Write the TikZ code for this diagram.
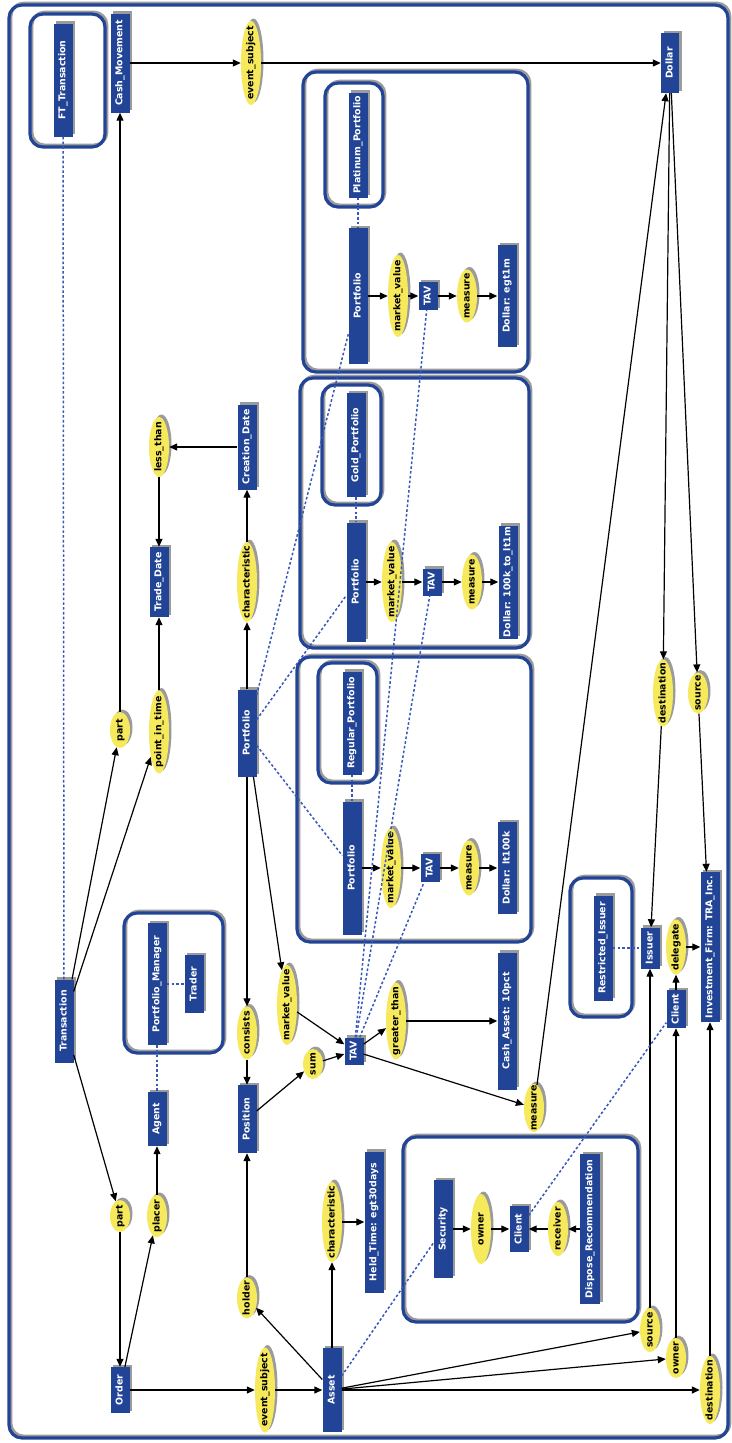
\documentclass[tikz,border=0pt]{standalone}
\usepackage{fontspec}
\setmainfont{DejaVu Sans}
\usepackage{graphicx}
\usetikzlibrary{shapes.geometric,arrows.meta,shadows}
\definecolor{nblue}{RGB}{34,68,150}
\definecolor{nyellow}{RGB}{246,234,92}
\definecolor{dblue}{RGB}{55,88,185}
\definecolor{shgray}{RGB}{155,155,155}
\newcommand{\rtx}[1]{\rotatebox{90}{\makebox[0pt]{\rule[-2pt]{0pt}{9pt}#1}}}
\newcommand{\nfont}{\fontsize{9.4}{11}\selectfont\bfseries}
\tikzset{
  nshadow/.style={drop shadow={shadow xshift=2.5pt,shadow yshift=2.5pt,fill=shgray,opacity=1}},
  bx/.style={rectangle, fill=nblue, text=white, font=\nfont, inner sep=0pt, minimum width=19pt, minimum height=#1, nshadow},
  bx/.default=40pt,
  el/.style={ellipse, fill=nyellow, text=black, font=\nfont, inner sep=0pt, minimum width=20pt, minimum height=#1, nshadow},
  el/.default=40pt,
  grp/.style={draw=nblue, line width=3.2pt, rounded corners=13pt},
  grpsh/.style={draw=shgray, line width=3.2pt, rounded corners=13pt, shift={(1.8,-1.8)}},
  arr/.style={draw=black, line width=1.2pt, -{Triangle[length=8pt,width=7pt]}},
  dotl/.style={draw=dblue, line width=1.5pt, dash pattern=on 2.6pt off 2.2pt},
}
\begin{document}
\begin{tikzpicture}[x=1pt,y=-1pt]
\useasboundingbox (0,0) rectangle (731,1443);
% frame and group boxes
\foreach \a/\b/\c/\d in {9/5/728/1438, 30/14/105/147, 303/72/528/372, 325/83/383/207, 300/378/529/648, 322/385/381/505, 297/657/531/942, 318/663/377/783, 124/913/223/1053, 570/878/632/1017, 403/1137/638/1322}{
  \draw[grpsh] (\a,\b) rectangle (\c,\d);
  \draw[grp] (\a,\b) rectangle (\c,\d);
}
% blue boxes
\node[bx=113pt] (ft) at (63,80) {\rtx{FT\_Transaction}};
\node[bx=99pt] (cash) at (120,63) {\rtx{Cash\_Movement}};
\node[bx=60pt, minimum width=18pt] (dollar) at (670,63) {\rtx{Dollar}};
\node[bx=105pt] (platp) at (358,145) {\rtx{Platinum\_Portfolio}};
\node[bx=136pt] (pf1) at (358,296) {\rtx{Portfolio}};
\node[bx=28pt] (tav1) at (428,296) {\rtx{TAV}};
\node[bx=102pt] (d1) at (507,296) {\rtx{Dollar: egt1m}};
\node[bx=104pt] (goldp) at (356,445) {\rtx{Gold\_Portfolio}};
\node[bx=119pt] (pf2) at (356,582) {\rtx{Portfolio}};
\node[bx=27pt] (tav2) at (432,582) {\rtx{TAV}};
\node[bx=113pt] (d2) at (508,582) {\rtx{Dollar: 100k\_to\_lt1m}};
\node[bx=103pt] (regp) at (352,723) {\rtx{Regular\_Portfolio}};
\node[bx=133pt] (pf3) at (352,868) {\rtx{Portfolio}};
\node[bx=28pt] (tav3) at (430,868) {\rtx{TAV}};
\node[bx=92pt] (d3) at (507,868) {\rtx{Dollar: lt100k}};
\node[bx=85pt] (cdate) at (247,447) {\rtx{Creation\_Date}};
\node[bx=70pt] (tdate) at (159,582) {\rtx{Trade\_Date}};
\node[bx=87pt] (pfm) at (247,733) {\rtx{Portfolio}};
\node[bx=83pt] (trans) at (64,1021) {\rtx{Transaction}};
\node[bx=122pt] (pm) at (157,984) {\rtx{Portfolio\_Manager}};
\node[bx=58pt] (trader) at (194,984) {\rtx{Trader}};
\node[bx=54pt] (agent) at (157,1119) {\rtx{Agent}};
\node[bx=68pt] (pos) at (247,1119) {\rtx{Position}};
\node[bx=27pt] (tavm) at (354,1051) {\rtx{TAV}};
\node[bx=137pt] (cash10) at (507,1021) {\rtx{Cash\_Asset: 10pct}};
\node[bx=46pt] (order) at (120,1390) {\rtx{Order}};
\node[bx=84pt] (asset) at (332,1390) {\rtx{Asset}};
\node[bx=141pt] (held) at (374,1222) {\rtx{Held\_Time: egt30days}};
\node[bx=98pt] (sec) at (443,1229) {\rtx{Security}};
\node[bx=46pt] (clienti) at (519,1229) {\rtx{Client}};
\node[bx=150pt, minimum width=20pt] (disp) at (590,1229) {\rtx{Dispose\_Recommendation}};
\node[bx=105pt] (restr) at (603,948) {\rtx{Restricted\_Issuer}};
\node[bx=41pt] (issuer) at (650,948) {\rtx{Issuer}};
\node[bx=38pt] (clientr) at (676,1009) {\rtx{Client}};
\node[bx=150pt] (inv) at (710,947) {\rtx{Investment\_Firm: TRA\_Inc.}};
% ellipses
\node[el=84pt] (es1) at (251,63) {\rtx{event\_subject}};
\node[el=82pt] (mv1) at (398,296) {\rtx{market\_value}};
\node[el=53pt] (ms1) at (467,296) {\rtx{measure}};
\node[el=80pt] (mv2) at (392,582) {\rtx{market\_value}};
\node[el=55pt] (ms2) at (472,582) {\rtx{measure}};
\node[el=80pt] (mv3) at (391,868) {\rtx{market\_value}};
\node[el=55pt] (ms3) at (469,868) {\rtx{measure}};
\node[el=60pt] (less) at (159,447) {\rtx{less\_than}};
\node[el=80pt] (char1) at (247,582) {\rtx{characteristic}};
\node[el=83pt] (pit) at (159,732) {\rtx{point\_in\_time}};
\node[el=36pt] (part1) at (120,730) {\rtx{part}};
\node[el=53pt] (cons) at (247,1033) {\rtx{consists}};
\node[el=80pt] (mvm) at (287,1005) {\rtx{market\_value}};
\node[el=30pt] (sum) at (313,1064) {\rtx{sum}};
\node[el=77pt] (gt) at (396,1021) {\rtx{greater\_than}};
\node[el=48pt] (msm) at (534,1108) {\rtx{measure}};
\node[el=32pt] (part2) at (120,1216) {\rtx{part}};
\node[el=42pt] (placer) at (157,1216) {\rtx{placer}};
\node[el=41pt] (holder) at (247,1298) {\rtx{holder}};
\node[el=85pt] (es2) at (265,1390) {\rtx{event\_subject}};
\node[el=80pt] (char2) at (332,1222) {\rtx{characteristic}};
\node[el=70pt] (owneri) at (481,1229) {\rtx{owner}};
\node[el=54pt] (recv) at (558,1229) {\rtx{receiver}};
\node[el=44pt] (src2) at (650,1330) {\rtx{source}};
\node[el=40pt] (own2) at (676,1358) {\rtx{owner}};
\node[el=68pt] (dest2) at (710,1390) {\rtx{destination}};
\node[el=55pt] (deleg) at (676,947) {\rtx{delegate}};
\node[el=67pt] (dest1) at (663,693) {\rtx{destination}};
\node[el=41pt] (src1) at (698,693) {\rtx{source}};
% arrows
\draw[arr] (cash) -- (es1);
\draw[arr] (es1) -- (dollar);
\draw[arr] (part1) -- (cash);
\draw[arr] (trans) -- (part1);
\draw[arr] (trans) -- (pit);
\draw[arr] (pit) -- (tdate);
\draw[arr] (cdate) -- (less);
\draw[arr] (less) -- (tdate);
\draw[arr] (pfm) -- (char1);
\draw[arr] (char1) -- (cdate);
\draw[arr] (pfm) -- (cons);
\draw[arr] (cons) -- (pos);
\draw[arr] (pfm) -- (mvm);
\draw[arr] (mvm) -- (tavm);
\draw[arr] (pos) -- (sum);
\draw[arr] (sum) -- (tavm);
\draw[arr] (tavm) -- (gt);
\draw[arr] (gt) -- (cash10);
\draw[arr] (tavm) -- (msm);
\draw[arr] (msm) -- (dollar);
\draw[arr] (trans) -- (part2);
\draw[arr] (part2) -- (order);
\draw[arr] (order) -- (placer);
\draw[arr] (placer) -- (agent);
\draw[arr] (order) -- (es2);
\draw[arr] (es2) -- (asset);
\draw[arr] (asset) -- (holder);
\draw[arr] (holder) -- (pos);
\draw[arr] (asset) -- (char2);
\draw[arr] (char2) -- (held);
\draw[arr] (asset) -- (src2);
\draw[arr] (src2) -- (issuer);
\draw[arr] (asset) -- (own2);
\draw[arr] (own2) -- (clientr);
\draw[arr] (asset) -- (dest2);
\draw[arr] (dest2) -- (inv);
\draw[arr] (clientr) -- (deleg);
\draw[arr] (deleg) -- (inv);
\draw[arr] (dollar) -- (dest1);
\draw[arr] (dest1) -- (issuer);
\draw[arr] (dollar) -- (src1);
\draw[arr] (src1) -- (inv);
\foreach \i in {1,2,3}{
  \draw[arr] (pf\i) -- (mv\i);
  \draw[arr] (mv\i) -- (tav\i);
  \draw[arr] (tav\i) -- (ms\i);
  \draw[arr] (ms\i) -- (d\i);
}
\draw[arr] (sec) -- (owneri);
\draw[arr] (owneri) -- (clienti);
\draw[arr] (disp) -- (recv);
\draw[arr] (recv) -- (clienti);
% dotted links
\draw[dotl] (ft) -- (trans);
\draw[dotl] (pm) -- (trader);
\draw[dotl] (pm) -- (agent);
\draw[dotl] (platp) -- (pf1);
\draw[dotl] (goldp) -- (pf2);
\draw[dotl] (regp) -- (pf3);
\draw[dotl] (pfm) -- (pf1);
\draw[dotl] (pfm) -- (pf2);
\draw[dotl] (pfm) -- (pf3);
\draw[dotl] (tavm) -- (tav1);
\draw[dotl] (tavm) -- (tav2);
\draw[dotl] (tavm) -- (tav3);
\draw[dotl] (asset) -- (sec);
\draw[dotl] (clienti) -- (clientr);
\draw[dotl] (restr) -- (issuer);
\end{tikzpicture}
\end{document}
